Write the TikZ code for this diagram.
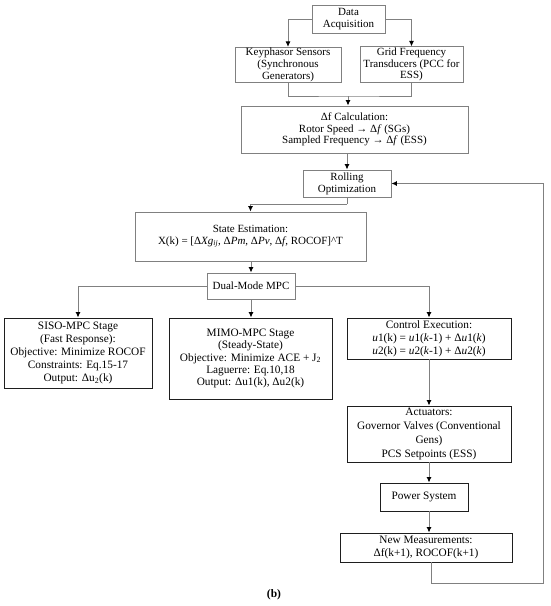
\documentclass[tikz,border=0pt]{standalone}
\usepackage{fontspec}
\setmainfont{Liberation Serif}
\usetikzlibrary{arrows.meta}
\definecolor{lg}{RGB}{128,128,128}
\definecolor{dk}{RGB}{30,30,30}
\begin{document}
\begin{tikzpicture}[x=1pt,y=-1pt,
  box/.style={draw=lg,line width=0.9pt,align=center,inner sep=1pt,
    font=\fontsize{11}{11.7}\selectfont},
  dbox/.style={box,draw=dk},
  ln/.style={draw=lg,line width=0.9pt},
  arr/.style={ln,-{Latex[length=5.5pt,width=5pt,color=black]}}]
\useasboundingbox (0,0) rectangle (550,606);
\node[box,minimum width=73pt,minimum height=28pt] (data) at (348.5,19) {Data\\Acquisition};
\node[box,minimum width=106pt,minimum height=34pt] (key) at (288,65) {Keyphasor Sensors\\(Synchronous\\Generators)};
\node[box,minimum width=103pt,minimum height=35pt] (grid) at (411.5,64.5) {Grid Frequency\\Transducers (PCC for\\ESS)};
\node[box,minimum width=227pt,minimum height=47pt] (dfc) at (354.5,129.5) {Δf Calculation:\\Rotor Speed → Δ\textit{f} (SGs)\\Sampled Frequency → Δ\textit{f} (ESS)};
\node[box,minimum width=88pt,minimum height=27pt] (roll) at (347,183.5) {Rolling\\Optimization};
\node[box,minimum width=231pt,minimum height=49pt] (state) at (250.5,236.5) {State Estimation:\\X(k) = [Δ\textit{Xg}\textsubscript{\textit{ij}}, Δ\textit{Pm}, Δ\textit{Pv}, Δ\textit{f}, ROCOF]\^{}T};
\node[box,minimum width=88pt,minimum height=26pt] (dual) at (251,286) {Dual-Mode MPC};
\node[dbox,minimum width=148pt,minimum height=70pt,font=\fontsize{11.3}{13.2}\selectfont] (siso) at (78,353) {SISO-MPC Stage\\(Fast Response):\\Objective: Minimize ROCOF\\Constraints: Eq.15-17\\Output: Δu\textsubscript{2}(k)};
\node[dbox,minimum width=163pt,minimum height=81pt,font=\fontsize{11.3}{12.2}\selectfont] (mimo) at (250.5,358.5) {MIMO-MPC Stage\\(Steady-State)\\Objective: Minimize ACE + J\textsubscript{2}\\Laguerre: Eq.10,18\\Output: Δu1(k), Δu2(k)};
\node[dbox,minimum width=164pt,minimum height=41pt,font=\fontsize{11.3}{13}\selectfont] (ctrl) at (429,338.5) {Control Execution:\\\textit{u}1(k) = \textit{u}1(\textit{k}-1) + Δ\textit{u}1(\textit{k})\\\textit{u}2(k) = \textit{u}2(\textit{k}-1) + Δ\textit{u}2(\textit{k})};
\node[dbox,minimum width=164pt,minimum height=56pt,font=\fontsize{11.3}{13.8}\selectfont] (act) at (429,434) {Actuators:\\Governor Valves (Conventional\\Gens)\\PCS Setpoints (ESS)};
\node[dbox,minimum width=88pt,minimum height=28pt,font=\fontsize{11.3}{13}\selectfont] (pow) at (424,497) {Power System};
\node[dbox,minimum width=172pt,minimum height=29pt,font=\fontsize{11.3}{13}\selectfont] (newm) at (426,547.5) {New Measurements:\\Δf(k+1), ROCOF(k+1)};
\node[font=\fontsize{11.5}{13}\selectfont\bfseries] (lab) at (274,595) {(b)};
% connectors
\draw[arr] (data.west) -| (key.north);
\draw[arr] (data.east) -| (grid.north);
\coordinate (m) at (348,96);
\draw[ln] (key.south) |- (m) -| (grid.south);
\draw[arr] (m) -- (m |- dfc.north);
\draw[arr] (dfc.south -| roll) -- (roll.north);
\coordinate (r) at (347,204);
\draw[ln] (roll.south) -- (r);
\draw[arr] (r) -| (state.north);
\draw[arr] (state.south -| dual) -- (dual.north);
\draw[arr] (dual.west) -| (siso.north);
\draw[arr] (dual.south) -- (dual.south |- mimo.north);
\draw[arr] (dual.east) -| (ctrl.north);
\draw[arr] (ctrl.south) -- (act.north);
\draw[arr] (act.south) -- (act.south |- pow.north);
\draw[arr] (act.south |- pow.south) -- (act.south |- newm.north);
\coordinate (f1) at (431,583);
\coordinate (f2) at (543,583);
\draw[arr] (newm.south -| f1) -- (f1) -- (f2) |- (roll.east);
\end{tikzpicture}
\end{document}
